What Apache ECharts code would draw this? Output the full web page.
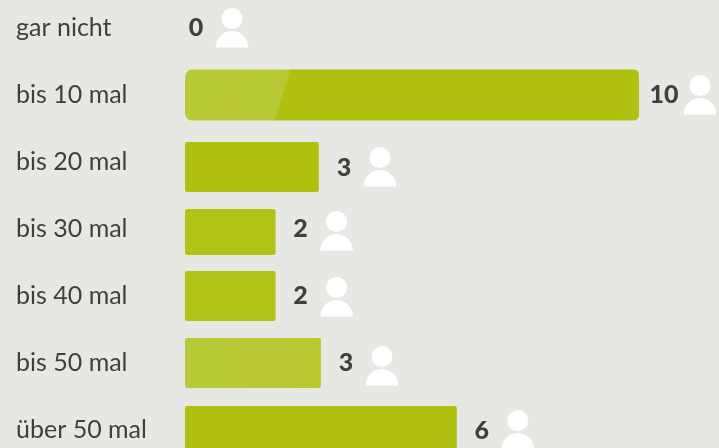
<!DOCTYPE html>
<html><head><meta charset="utf-8">
<style>html,body{margin:0;padding:0;background:#e7e8e4}#c{width:719px;height:448px}</style>
<script src="https://cdn.jsdelivr.net/npm/echarts@6/dist/echarts.min.js"></script>
</head><body><div id="c"></div>
<script>
const categories = ['gar nicht','bis 10 mal','bis 20 mal','bis 30 mal','bis 40 mal','bis 50 mal','über 50 mal'];
const values = [0,10,3,2,2,3,6];
// small hand-placement quirks of the original layout, in pixels
const rowShift = [0,0,5,3,0,0,1];
const textShift = [0,0,1,-3,0,0,0];
const iconShift = [0,0,0,-1,1,3,-1];
const barHeights = [50,51,50,46,50,50,50];
const widthTrim = [0,1,-2,0,0,0,0];
const FONT = 'Lato';
const TEXT = '#3f3f3f';
const GREEN = '#afc10e';
const LIGHT = '#b9ca38';
function fillFor(i,x,y){
  if(i===1) return {type:'linear',global:true,x:x,y:y,x2:x+479,y2:y+143.5,colorStops:[
    {offset:0,color:LIGHT},{offset:.2,color:'#b7c932'},{offset:.203,color:GREEN},
    {offset:.85,color:GREEN},{offset:1,color:'#b5c629'}]};
  if(i===5) return {type:'linear',x:0,y:0,x2:1,y2:0,colorStops:[
    {offset:0,color:LIGHT},{offset:1,color:'#b7c830'}]};
  if(i===4||i===3) return '#b1c317';
  return GREEN;
}
const chart = echarts.init(document.getElementById('c'),null,{renderer:'canvas'});
chart.setOption({
  animation:false,
  backgroundColor:'#e7e8e4',
  grid:{left:185,width:534,top:-5.4,height:468.9,outerBoundsMode:'none',containLabel:false},
  xAxis:{type:'value',min:0,max:534/45.3,show:false},
  yAxis:{type:'category',inverse:true,data:categories,
    axisLine:{show:false},axisTick:{show:false},splitLine:{show:false},
    axisLabel:{align:'left',margin:169,color:TEXT,fontFamily:FONT,fontSize:25}},
  series:[{
    type:'custom',
    clip:false,
    encode:{x:0,y:1},
    data:values.map((v,i)=>[v,i]),
    renderItem(params,api){
      const i=api.value(1), v=api.value(0);
      const p0=api.coord([0,i]), p=api.coord([v,i]);
      const cy=p[1]+rowShift[i];
      const end=p[0]+widthTrim[i];
      const kids=[];
      if(v>0){
        const h=barHeights[i];
        kids.push({type:'rect',
          shape:{x:p0[0],y:cy-h/2,width:end-p0[0],height:h,r:i===1?[7,5,5,7]:2},
          style:{fill:fillFor(i,p0[0],cy-h/2)}});
      }
      const off=v>0?0:-14;
      kids.push({type:'text',style:{x:end+25+off,y:cy+textShift[i],text:String(v),
        fill:TEXT,font:'900 25px '+FONT,align:'center',verticalAlign:'middle'}});
      const ix=end+61+off, iy=cy+iconShift[i];
      kids.push({type:'circle',shape:{cx:ix,cy:iy-9.5,r:10.5},style:{fill:'#fff'}});
      kids.push({type:'path',
        shape:{pathData:`M${ix-16.3} ${iy+19.5}A16.3 16.5 0 0 1 ${ix+16.3} ${iy+19.5}Z`},
        style:{fill:'#fff'}});
      return {type:'group',children:kids};
    }
  }]
});
</script></body></html>
